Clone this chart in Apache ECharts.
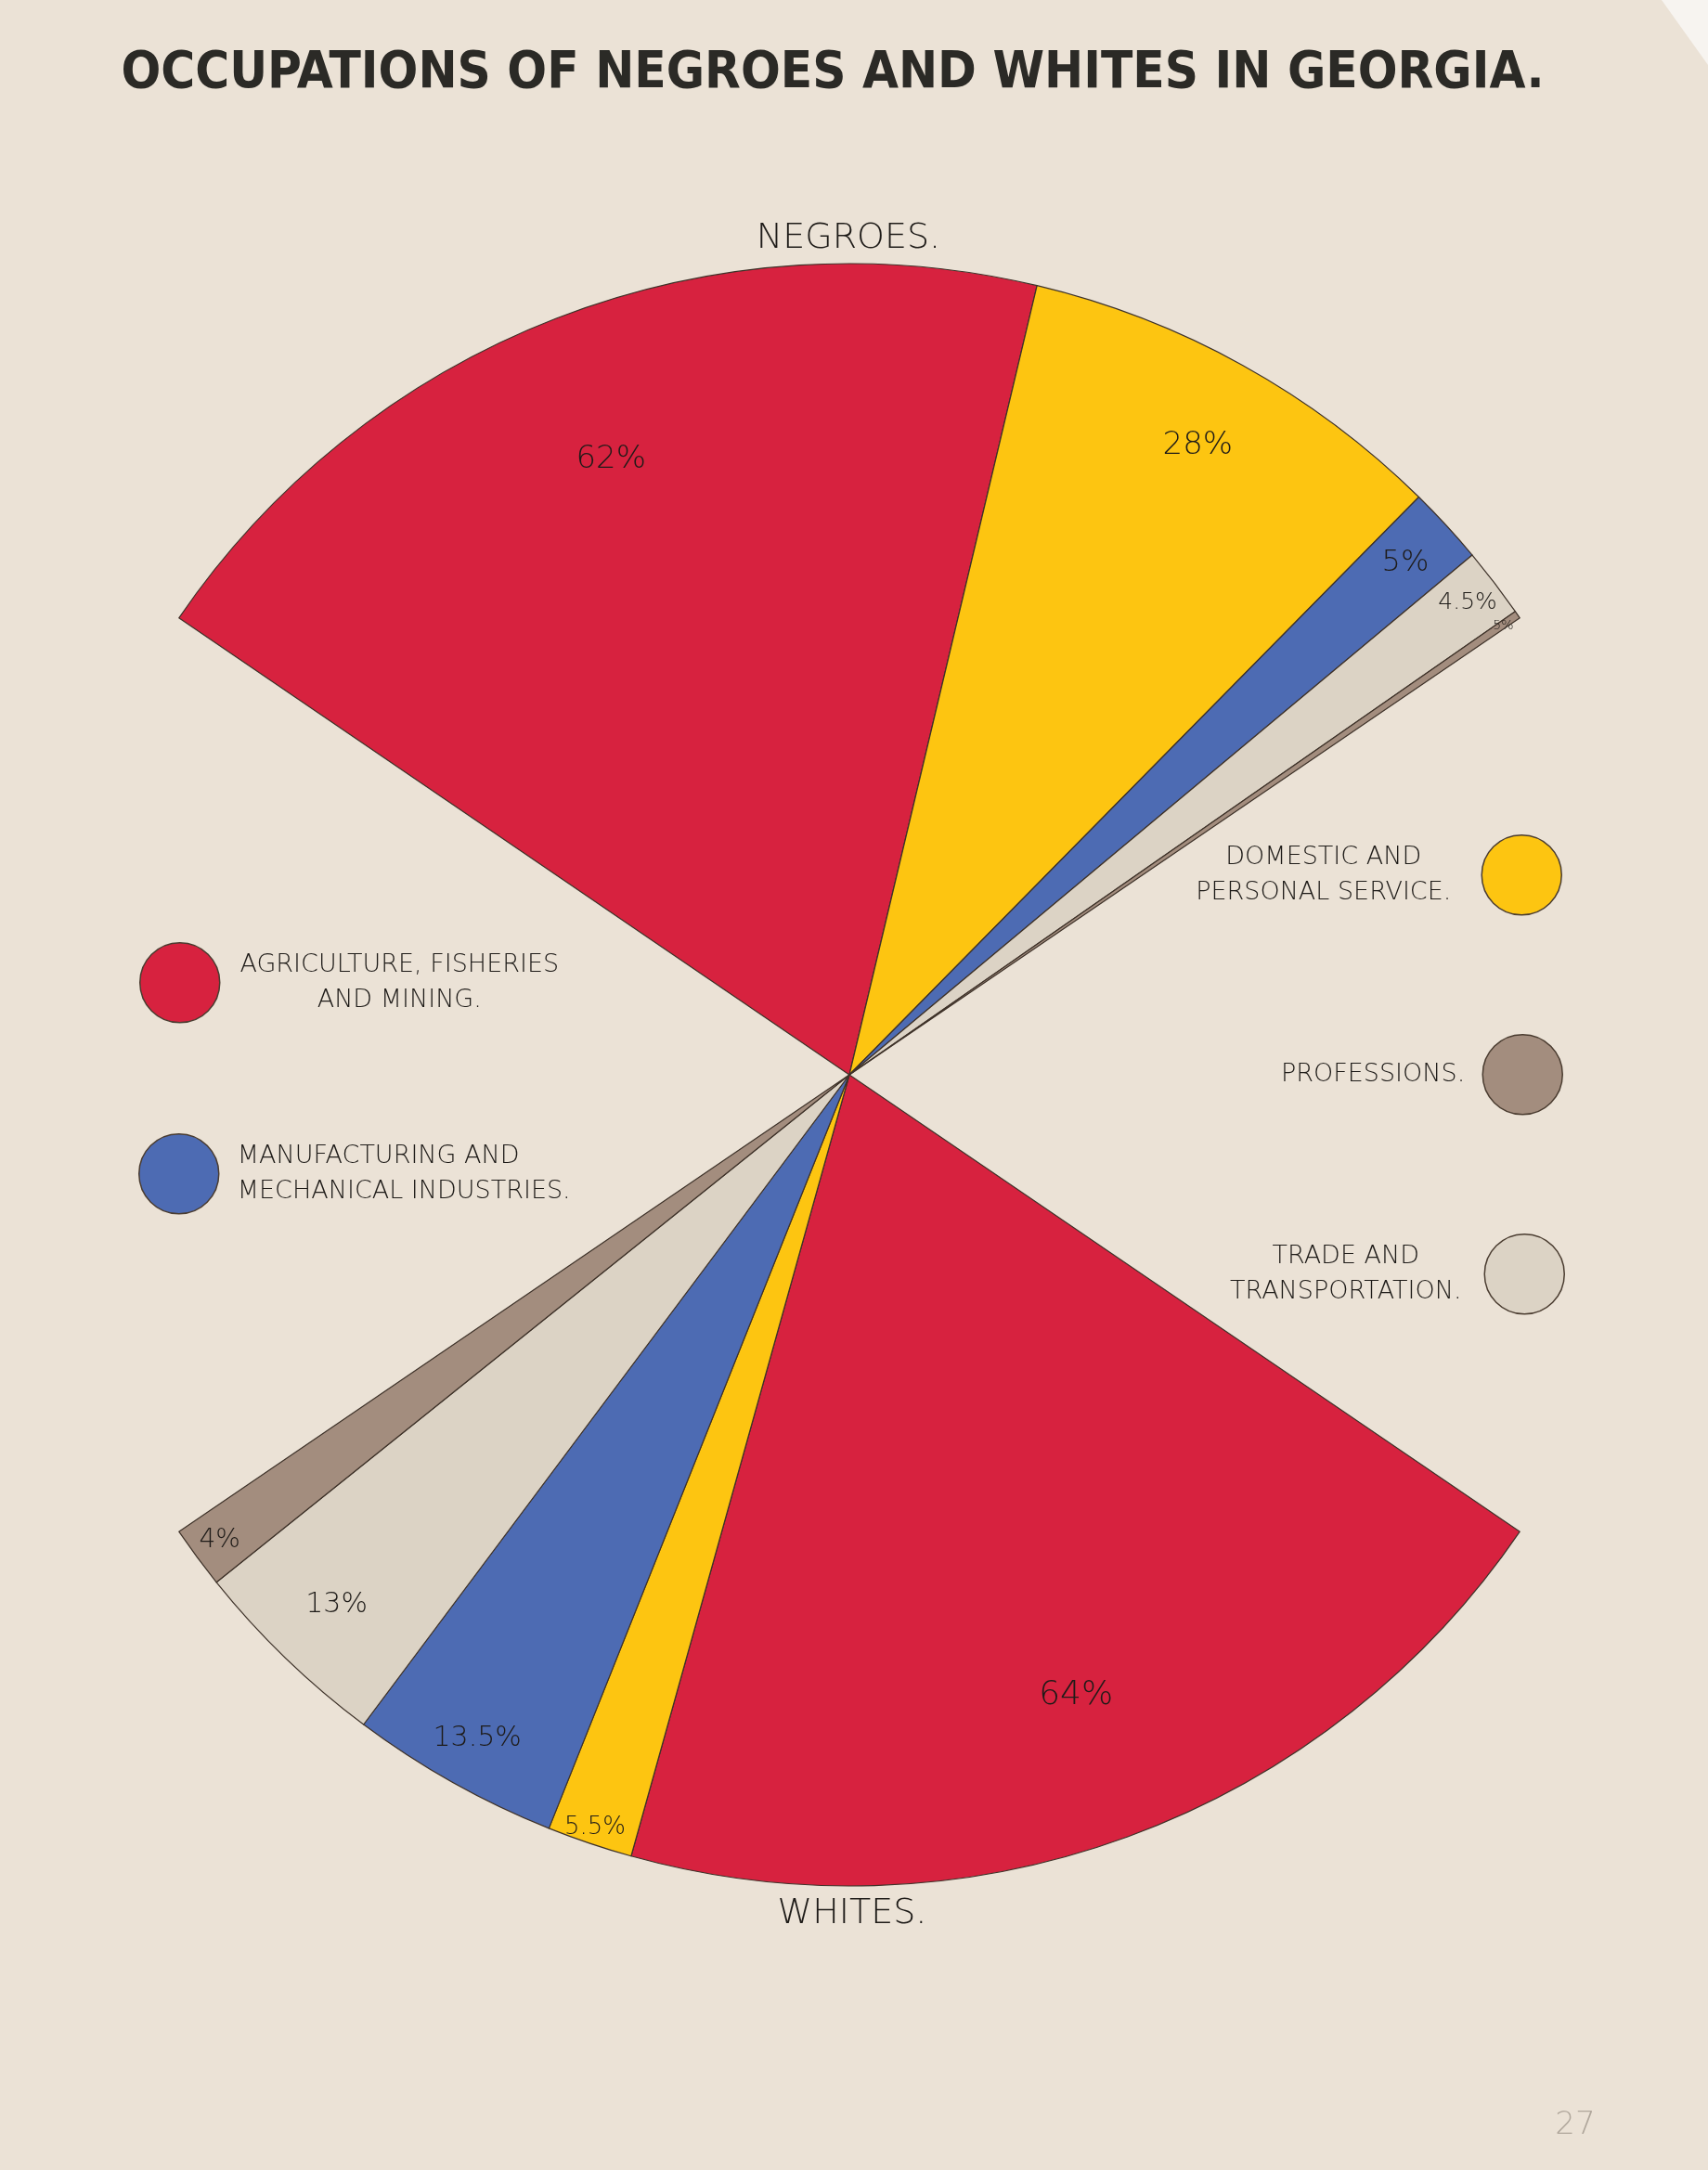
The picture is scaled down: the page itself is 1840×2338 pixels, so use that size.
<!DOCTYPE html>
<html><head><meta charset="utf-8">
<script src="https://cdn.jsdelivr.net/npm/echarts@6/dist/echarts.min.js"></script>
<style>html,body{margin:0;padding:0;background:#ebe2d6}#c{width:1840px;height:2338px}</style>
</head><body><div id="c"></div>
<script>
// ---- data ----
const categories = ['Agriculture, Fisheries and Mining', 'Domestic and Personal Service', 'Manufacturing and Mechanical Industries', 'Trade and Transportation', 'Professions'];
const legendLines = [['AGRICULTURE, FISHERIES', 'AND MINING.'], ['DOMESTIC AND', 'PERSONAL SERVICE.'], ['MANUFACTURING AND', 'MECHANICAL INDUSTRIES.'], ['TRADE AND', 'TRANSPORTATION.'], ['PROFESSIONS.']];
const negroes = [62, 28, 5, 4.5, 0.5];
const whites = [64, 5.5, 13.5, 13, 4];
const groupLabels = ['NEGROES.', 'WHITES.'];
const titleText = 'OCCUPATIONS OF NEGROES AND WHITES IN GEORGIA.';

// ---- style / layout ----
const colors = ['#d7223f', '#fdc511', '#4d6bb3', '#dcd3c5', '#a38d7e'];
const CX = 915, CY = 1158, R = 874;
const FAN = 111.46, START = 145.73;
const spacer = 100 * (180 - FAN) / FAN;
const labelR = [[0.81, 0.883, 0.928, 0.955, 0.972], [0.811, 0.976, 0.935, 0.906, 0.962]];
const labelSize = [[34, 34, 32, 25, 14], [36, 26, 30, 30, 28]];
const INK = '#1e1b18';
const THIN = '"DejaVu Sans", "Noto Sans", sans-serif';
const fmt = v => (v < 1 ? String(v).replace(/^0/, '') : String(v)) + '%';

function items(vals, grp) {
  return vals.map((v, i) => ({ name: categories[i], value: v, grp: grp, idx: i, itemStyle: { color: colors[i] } }));
}
const gap = n => ({ name: n, value: spacer, gap: true, itemStyle: { color: 'rgba(0,0,0,0)', borderWidth: 0 } });
const pieData = [...items(negroes, 0), gap('gap1'), ...items(whites, 1), gap('gap2')];

const series = [{
  type: 'pie', center: [CX, CY], radius: [0, R], startAngle: START, clockwise: true,
  silent: true, avoidLabelOverlap: false, label: { show: false }, labelLine: { show: false },
  itemStyle: { borderColor: '#3e3229', borderWidth: 1.2 },
  data: pieData
}];
pieData.forEach((d, k) => {
  if (d.gap) return;
  const f = labelR[d.grp][d.idx];
  series.push({
    type: 'pie', center: [CX, CY], radius: [R * (2 * f - 1), R], startAngle: START, clockwise: true,
    silent: true, avoidLabelOverlap: false, legendHoverLink: false, labelLine: { show: false },
    label: { position: 'inside', rotate: 0, formatter: p => fmt(p.value), fontSize: labelSize[d.grp][d.idx], fontFamily: THIN, fontWeight: 200, color: INK },
    data: pieData.map((e, j) => ({ name: e.name, value: e.value, itemStyle: { color: 'rgba(0,0,0,0)', borderWidth: 0 }, label: { show: j === k } }))
  });
});

function legend(i, pos, align, width, padL, padR, lineAlign) {
  const lines = legendLines[i];
  return Object.assign({
    orient: 'vertical', icon: 'circle', itemWidth: 86, itemHeight: 86, selectedMode: false, align: align, padding: 0,
    itemStyle: { borderColor: '#4a3c30', borderWidth: 1.5 },
    data: [categories[i]],
    formatter: () => lines.map(l => '{t|' + l + '}').join('\n'),
    textStyle: { rich: { t: { width: width, align: lineAlign, fontSize: 27, lineHeight: 38, fontFamily: THIN, fontWeight: 200, color: INK, padding: [0, padR, 0, padL] } } }
  }, pos);
}
const legends = [
  legend(0, { left: 150, top: 1015 }, 'left', 343, 17, 0, 'center'),
  legend(2, { left: 149, top: 1221 }, 'left', 340, 15, 0, 'left'),
  legend(1, { right: 157, top: 899 }, 'right', 303, 0, 14, 'center'),
  legend(4, { right: 156, top: 1114 }, 'right', 207, 0, 14, 'right'),
  legend(3, { right: 154, top: 1329 }, 'right', 265, 0, 12, 'center')
];

const chart = echarts.init(document.getElementById('c'), null, { renderer: 'canvas' });
chart.setOption({
  backgroundColor: '#ebe2d6',
  animation: false,
  legend: legends,
  series: series,
  graphic: [
    { type: 'text', x: 897, y: 79, style: { text: titleText, align: 'center', verticalAlign: 'middle', fill: '#2b2a26', font: 'bold 56px "DejaVu Sans Condensed", "DejaVu Sans", sans-serif' } },
    { type: 'text', x: 914, y: 257, style: { text: groupLabels[0], align: 'center', verticalAlign: 'middle', fill: INK, font: '200 38px "DejaVu Sans", sans-serif' } },
    { type: 'text', x: 918, y: 2062, style: { text: groupLabels[1], align: 'center', verticalAlign: 'middle', fill: INK, font: '200 38px "DejaVu Sans", sans-serif' } },
    { type: 'text', x: 1697, y: 2290, style: { text: '27', align: 'center', verticalAlign: 'middle', fill: '#b0a79c', font: '200 34px "DejaVu Sans", sans-serif' } },
    { type: 'polygon', shape: { points: [[1790, 0], [1840, 0], [1840, 70]] }, style: { fill: '#f7f4f0' } }
  ]
});
</script></body></html>
